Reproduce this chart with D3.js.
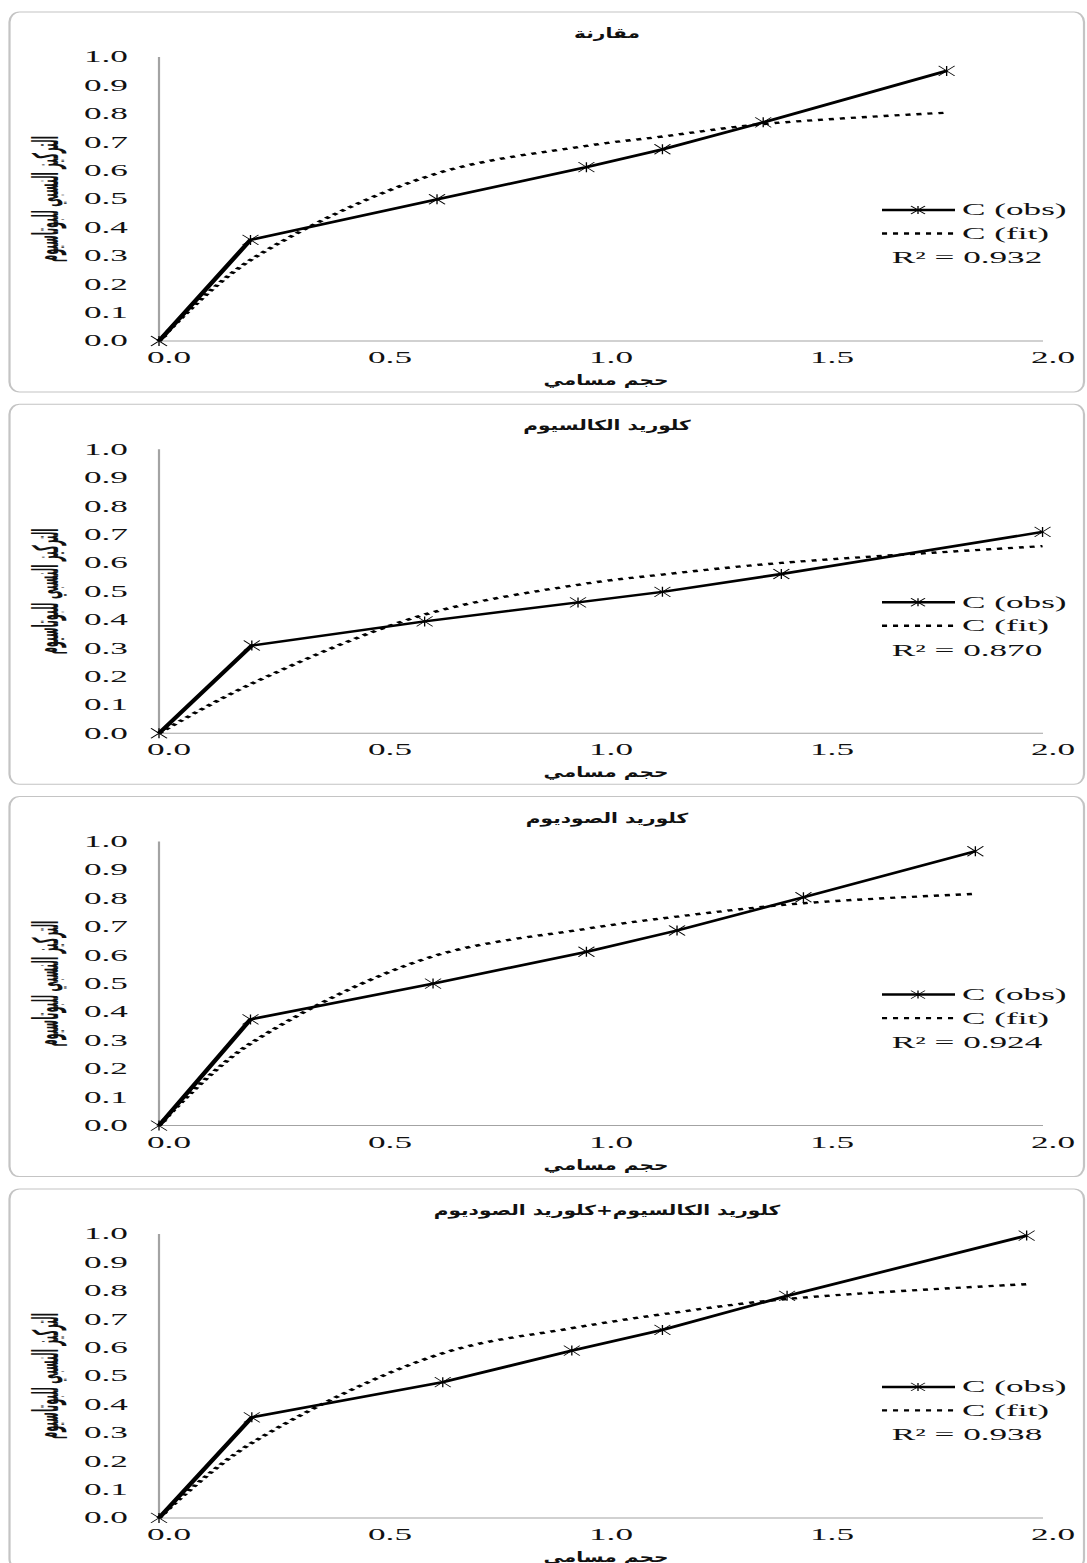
<!DOCTYPE html>
<meta charset="utf-8">
<style>
body{margin:0;background:#fff;}
svg{display:block}
.tick{font-family:"Liberation Serif","Times New Roman",serif;font-size:16px;fill:#111;}
.ar{font-family:"DejaVu Sans",sans-serif;font-weight:bold;font-size:14px;fill:#111;}
.ylab{font-size:16px;}
</style>
<svg id="chart" width="1087" height="1563"></svg>
<script src="https://d3js.org/d3.v7.min.js"></script>
<script>
// four stacked panels, same axes: relative concentration vs pore volume
const titles = ["مقارنة", "كلوريد الكالسيوم", "كلوريد الصوديوم", "كلوريد الكالسيوم+كلوريد الصوديوم"]
const r2Labels = ["0.932", "0.870", "0.924", "0.938"]
const xTicks = [0, 0.5, 1, 1.5, 2]
const yTicks = [0, 0.1, 0.2, 0.3, 0.4, 0.5, 0.6, 0.7, 0.8, 0.9, 1.0]

const obsX1 = [0, 0.207, 0.629, 0.967, 1.139, 1.367, 1.782]
const obsY1 = [0, 0.356, 0.499, 0.612, 0.675, 0.770, 0.951]
const fitY1 = [0, 0.285, 0.590, 0.687, 0.720, 0.764, 0.804]

const obsX2 = [0, 0.210, 0.601, 0.948, 1.139, 1.408, 1.999]
const obsY2 = [0, 0.309, 0.394, 0.461, 0.498, 0.561, 0.709]
const fitY2 = [0, 0.175, 0.418, 0.523, 0.559, 0.600, 0.659]

const obsX3 = [0, 0.207, 0.620, 0.967, 1.172, 1.458, 1.847]
const obsY3 = [0, 0.374, 0.500, 0.612, 0.687, 0.804, 0.966]
const fitY3 = [0, 0.289, 0.596, 0.693, 0.736, 0.783, 0.816]

const obsX4 = [0, 0.210, 0.642, 0.934, 1.139, 1.421, 1.963]
const obsY4 = [0, 0.354, 0.478, 0.589, 0.662, 0.782, 0.994]
const fitY4 = [0, 0.264, 0.580, 0.668, 0.717, 0.771, 0.823]

const xs = [obsX1, obsX2, obsX3, obsX4]
const obs = [obsY1, obsY2, obsY3, obsY4]
const fit = [fitY1, fitY2, fitY3, fitY4]

const yLabel = "التركيز النسبي للبوتاسيوم"
const xLabel = "حجم مسامي"

// the original picture is stretched sideways, so everything is drawn in a
// narrow space and then widened by SX
const SX = 2.2
const sx = px => px / SX
const STEP = 392.3

const svg = d3.select('#chart')
const root = svg.append('g').attr('transform', `scale(${SX},1)`)

const x = d3.scaleLinear().domain([0, 2]).range([sx(159), sx(1043)])

titles.forEach((title, i) => {
  const top = 12 + i * STEP
  const y = d3.scaleLinear().domain([0, 1]).range([top + 329, top + 45])
  const g = root.append('g')

  g.append('rect')
    .attr('x', sx(9.5)).attr('y', top)
    .attr('width', sx(1084 - 9.5)).attr('height', 380)
    .attr('rx', sx(10)).attr('ry', 10)
    .attr('fill', 'none').attr('stroke', '#c4c4c4').attr('stroke-width', 1)

  // axes
  g.append('line')
    .attr('x1', x(0)).attr('x2', x(0)).attr('y1', y(1)).attr('y2', y(0))
    .attr('stroke', '#a3a3a3').attr('stroke-width', 1)
  g.append('line')
    .attr('x1', x(0)).attr('x2', x(2)).attr('y1', y(0)).attr('y2', y(0))
    .attr('stroke', '#a3a3a3').attr('stroke-width', 1)

  g.selectAll('text.ytick').data(yTicks).join('text')
    .attr('class', 'tick ytick')
    .attr('x', sx(128)).attr('y', d => y(d) + 5.5)
    .attr('text-anchor', 'end')
    .text(d => d.toFixed(1))

  g.selectAll('text.xtick').data(xTicks).join('text')
    .attr('class', 'tick xtick')
    .attr('x', d => x(d) + sx(10)).attr('y', y(0) + 22)
    .attr('text-anchor', 'middle')
    .text(d => d.toFixed(1))

  g.append('text').attr('class', 'ar title')
    .attr('x', sx(607)).attr('y', top + 26)
    .attr('text-anchor', 'middle')
    .text(title)

  g.append('text').attr('class', 'ar xlab')
    .attr('x', sx(606)).attr('y', y(0) + 44)
    .attr('text-anchor', 'middle')
    .text(xLabel)

  g.append('text').attr('class', 'ar ylab')
    .attr('transform', `translate(${sx(58)},${y(0.5)}) rotate(-90)`)
    .attr('text-anchor', 'middle')
    .attr('textLength', 126).attr('lengthAdjust', 'spacingAndGlyphs')
    .text(yLabel)

  const pts = xs[i].map((d, j) => ({x: d, obs: obs[i][j], fit: fit[i][j]}))

  g.append('path').datum(pts)
    .attr('fill', 'none').attr('stroke', '#000').attr('stroke-width', 2.4)
    .attr('stroke-dasharray', '2.3,2.7')
    .attr('d', d3.line().x(d => x(d.x)).y(d => y(d.fit)).curve(d3.curveCatmullRom.alpha(0.5)))

  g.append('path').datum(pts)
    .attr('fill', 'none').attr('stroke', '#000').attr('stroke-width', 2.5)
    .attr('d', d3.line().x(d => x(d.x)).y(d => y(d.obs)))

  const star = (sel, w, h) => sel.append('path')
    .attr('fill', 'none').attr('stroke', '#000').attr('stroke-width', 0.6)
    .attr('d', `M${-w},${-h}L${w},${h}M${-w},${h}L${w},${-h}M0,${-h}L0,${h}`)

  g.selectAll('g.mk').data(pts).join('g')
    .attr('class', 'mk')
    .attr('transform', d => `translate(${x(d.x)},${y(d.obs)})`)
    .each(function () { star(d3.select(this), sx(8), 5) })

  // legend
  const ly = y(0) - 131
  g.append('line')
    .attr('x1', sx(882)).attr('x2', sx(955)).attr('y1', ly).attr('y2', ly)
    .attr('stroke', '#000').attr('stroke-width', 2.5)
  star(g.append('g').attr('transform', `translate(${sx(918)},${ly})`), sx(7), 4)
  g.append('text').attr('class', 'tick')
    .attr('x', sx(962)).attr('y', ly + 5.5).text('C (obs)')

  g.append('line')
    .attr('x1', sx(882)).attr('x2', sx(955)).attr('y1', ly + 23.5).attr('y2', ly + 23.5)
    .attr('stroke', '#000').attr('stroke-width', 2.4).attr('stroke-dasharray', '2.3,2.7')
  g.append('text').attr('class', 'tick')
    .attr('x', sx(962)).attr('y', ly + 29).text('C (fit)')

  g.append('text').attr('class', 'tick')
    .attr('x', sx(967)).attr('y', ly + 53.5)
    .attr('text-anchor', 'middle')
    .text(`R² = ${r2Labels[i]}`)
})

// squeeze all arabic horizontal text by one common factor (x label ~125px
// wide in the picture) so the words keep their proportions
const natural = root.select('text.xlab').node().getComputedTextLength()
const k = sx(125) / natural
root.selectAll('text.title, text.xlab').each(function () {
  const w = this.getComputedTextLength()
  d3.select(this).attr('textLength', w * k).attr('lengthAdjust', 'spacingAndGlyphs')
})
</script>
